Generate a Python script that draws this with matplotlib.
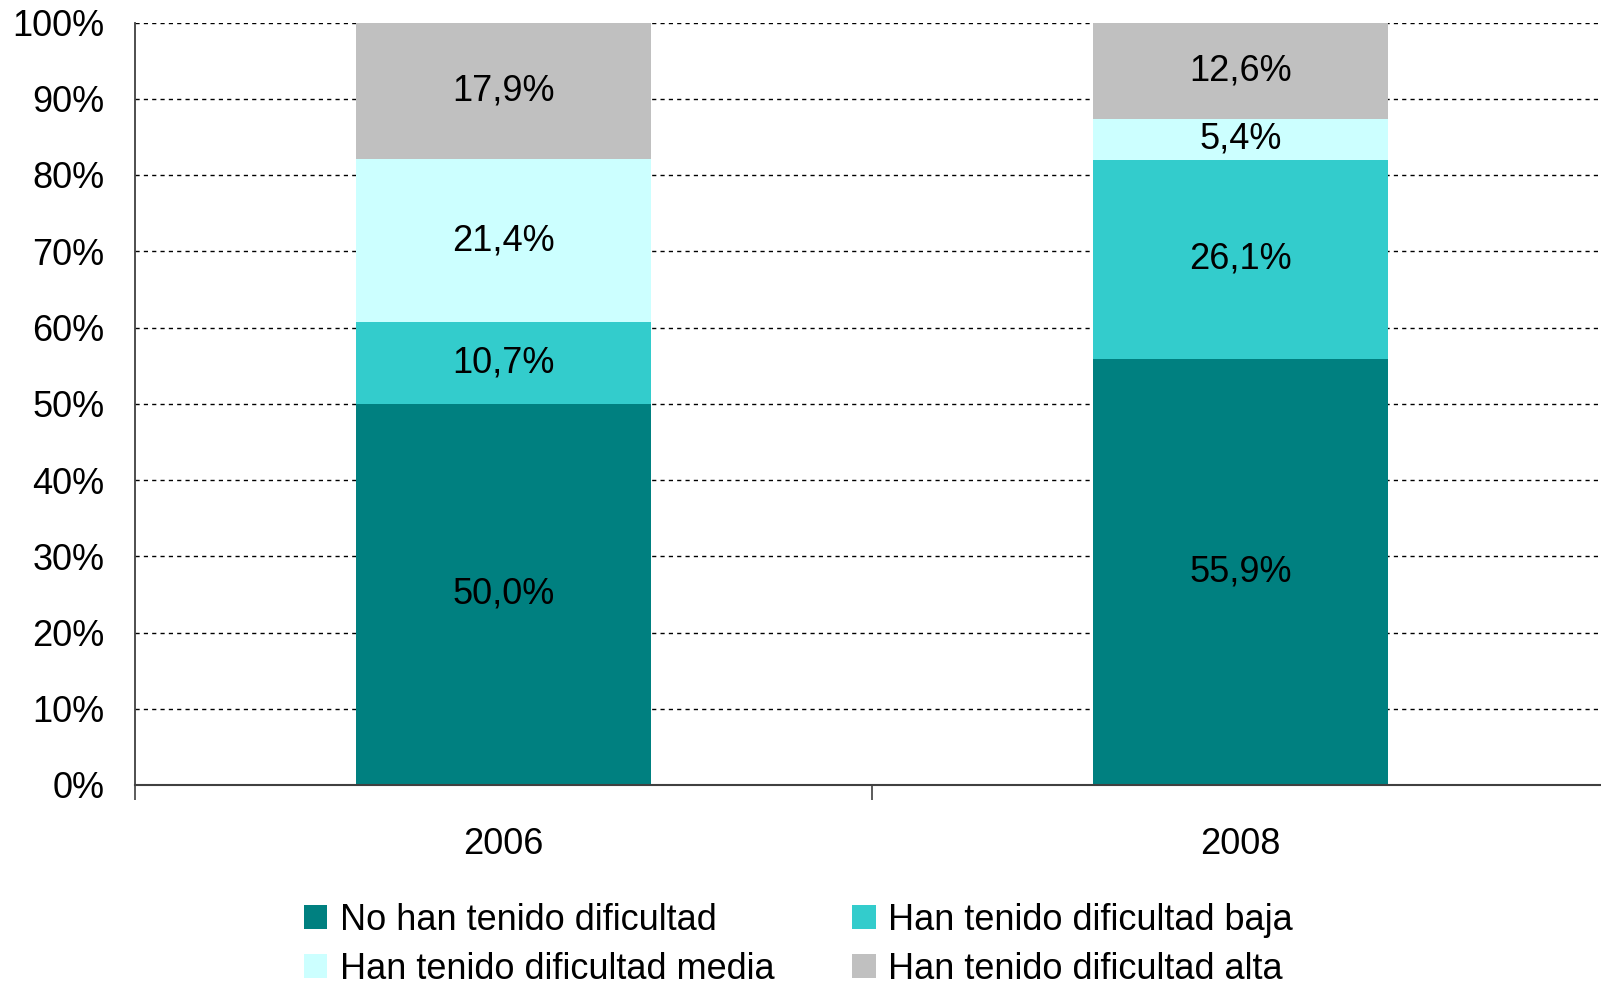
import matplotlib.pyplot as plt
import numpy as np

# DATOS

anios = ['2006', '2008']
no_dificultad = [50.0, 55.9]
dificultad_baja = [10.7, 26.1]
dificultad_media = [21.4, 5.4]
dificultad_alta = [17.9, 12.6]

series = [
    ('No han tenido dificultad', no_dificultad, '#008080'),
    ('Han tenido dificultad baja', dificultad_baja, '#33CCCC'),
    ('Han tenido dificultad media', dificultad_media, '#CCFFFF'),
    ('Han tenido dificultad alta', dificultad_alta, '#C0C0C0'),
]

plt.rcParams['font.family'] = ['Liberation Sans', 'DejaVu Sans']

W, H = 1601, 989
fig = plt.figure(figsize=(W / 100, H / 100), dpi=100)
# el eje llega un poco más allá del borde derecho de la figura
ax = fig.add_axes([135 / W, 1 - 785 / H, 1474 / W, (785 - 22.5) / H])

pos = np.arange(len(anios))
base = np.zeros(len(anios))
handles = {}

for nombre, valores, color in series:
    valores = np.array(valores)
    barras = ax.bar(pos, valores, 0.4, bottom=base, color=color,
                    edgecolor='none', zorder=2, label=nombre)
    handles[nombre] = barras
    for x, b, v in zip(pos, base, valores):
        ax.text(x, b + v / 2, f"{v:.1f}%".replace('.', ','),
                ha='center', va='center', fontsize=26, color='black',
                zorder=3)
    base = base + valores

# EJES

ax.set_xlim(-0.5, 1.5)
ax.set_ylim(0, 100)
ax.set_yticks(np.arange(0, 101, 10))
ax.set_yticklabels([f"{v}%" for v in range(0, 101, 10)])
ax.tick_params(axis='y', length=0, pad=22, labelsize=26)

ax.set_xticks([-0.5, 0.5, 1.5])
ax.set_xticklabels(['', '', ''])
ax.tick_params(axis='x', which='major', length=11, width=1.2,
               direction='out', color='#404040')
ax.set_xticks(pos, minor=True)
ax.set_xticklabels(anios, minor=True)
ax.tick_params(axis='x', which='minor', length=0, pad=30, labelsize=26)

for y in range(10, 101, 10):
    ax.axhline(y, color='black', linestyle=(0, (3, 3)), linewidth=1.0,
               zorder=1)

ax.spines['top'].set_visible(False)
ax.spines['right'].set_visible(False)
ax.spines['left'].set_color('#404040')
ax.spines['bottom'].set_color('#404040')
ax.spines['left'].set_linewidth(1.3)
ax.spines['bottom'].set_linewidth(1.5)

# LEYENDA

orden = ['No han tenido dificultad', 'Han tenido dificultad media',
         'Han tenido dificultad baja', 'Han tenido dificultad alta']
fig.legend([handles[n] for n in orden], orden, ncol=2,
           loc='upper left', bbox_to_anchor=(304 / W, 1 - 903 / H),
           frameon=False, fontsize=26, handlelength=0.65,
           handleheight=0.65, handletextpad=0.35, columnspacing=2.15,
           labelspacing=0.38, borderaxespad=0, borderpad=0)

fig.savefig('out.png', dpi=100)
